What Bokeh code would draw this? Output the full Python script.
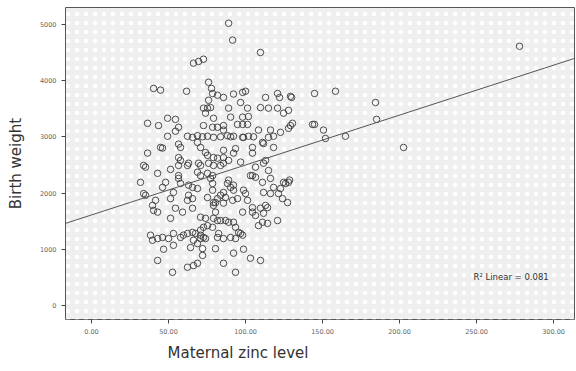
from bokeh.plotting import figure
from bokeh.models import Range1d, Slope, Label, Title, BoxAnnotation, FixedTicker, NumeralTickFormatter
from bokeh.embed import file_html
from bokeh.resources import INLINE

# Maternal zinc level (x) and birth weight (y)
zinc = [
    89.0, 91.6, 109.7, 66.2, 69.5, 72.7, 76.0, 40.3, 44.8, 61.7,
    77.9, 78.6, 81.8, 85.7, 92.2, 98.1, 100.0, 113.0, 120.8, 122.1,
    129.2, 96.8, 76.0, 77.3, 75.3, 72.7, 89.0, 101.3, 109.7, 114.9,
    120.8, 127.9, 124.7, 74.0, 49.4, 54.5, 36.4, 43.5, 56.5, 54.5,
    49.4, 62.3, 65.6, 68.8, 72.1, 75.3, 79.2, 83.8, 88.3, 90.3,
    92.2, 98.1, 101.9, 105.2, 72.7, 78.6, 81.8, 85.7, 94.8, 98.1,
    101.3, 101.9, 98.1, 90.3, 79.2, 85.7, 108.4, 118.2, 129.2, 127.9,
    111.7, 118.2, 44.8, 56.5, 57.8, 68.8, 70.8, 74.0, 75.3, 79.2,
    85.7, 93.5, 104.5, 104.5, 36.4, 56.5, 85.7, 277.9, 158.4, 144.8,
    129.9, 184.4, 185.1, 143.5, 144.8, 150.6, 151.9, 164.9, 202.6, 128.6,
    126.0, 33.8, 35.1, 42.9, 51.3, 56.5, 57.8, 62.3, 70.8, 76.0,
    79.2, 83.8, 85.7, 81.8, 89.0, 92.2, 96.8, 106.5, 111.7, 114.9,
    31.8, 33.8, 35.1, 48.1, 53.2, 56.5, 56.5, 57.8, 63.0, 70.8,
    75.3, 78.6, 77.3, 65.6, 68.8, 63.0, 65.6, 62.3, 78.6, 78.6,
    75.3, 79.2, 89.0, 88.3, 92.2, 90.3, 85.7, 87.0, 85.7, 81.8,
    80.5, 94.8, 100.0, 101.3, 98.1, 104.5, 104.5, 106.5, 111.0, 116.2,
    118.2, 111.7, 116.2, 121.4, 122.7, 127.9, 124.7, 127.3, 124.0, 113.0,
    114.3, 104.5, 109.7, 111.7, 111.0, 108.4, 120.8, 114.3, 39.6, 40.3,
    42.9, 51.3, 54.5, 59.1, 70.8, 74.0, 75.3, 72.7, 70.8, 81.8,
    83.8, 87.0, 89.0, 92.2, 93.5, 95.5, 78.6, 38.3, 39.6, 42.9,
    46.1, 50.0, 53.2, 57.8, 59.7, 62.3, 65.6, 67.5, 70.8, 72.7,
    70.8, 66.2, 64.3, 68.8, 74.0, 81.8, 85.7, 90.3, 93.5, 96.8,
    98.1, 72.1, 72.1, 66.2, 62.3, 68.8, 46.8, 53.2, 80.5, 92.2,
    98.7, 42.9, 52.6, 85.7, 93.5, 103.2, 109.7, 46.1, 63.0, 69.5,
    68.8, 46.1, 51.3, 41.6, 98.7, 111.0, 114.9, 113.0, 103.2, 92.2,
    98.7, 83.8, 65.6, 79.2, 80.5, 79.2, 106.5, 82.5, 91.6, 116.2,
    122.7, 130.5,
]
birth_weight = [
    5020, 4720, 4500, 4310, 4340, 4380, 3970, 3860, 3830, 3810,
    3860, 3770, 3740, 3700, 3760, 3790, 3810, 3700, 3770, 3700,
    3720, 3610, 3650, 3520, 3510, 3510, 3510, 3510, 3520, 3510,
    3510, 3470, 3420, 3420, 3330, 3310, 3240, 3200, 3170, 3100,
    3010, 3010, 2990, 3020, 3000, 3010, 2990, 3000, 3020, 3000,
    3010, 2990, 3010, 3000, 3200, 3170, 3170, 3200, 3220, 3220,
    3220, 3360, 3350, 3350, 3330, 3120, 3120, 3010, 3200, 3150,
    2880, 2810, 2810, 2870, 2810, 2900, 2810, 2720, 2670, 2630,
    2760, 2790, 2810, 2710, 2710, 2630, 2630, 4610, 3810, 3770,
    3700, 3610, 3310, 3220, 3220, 3120, 2970, 3010, 2810, 2230,
    2170, 2490, 2460, 2350, 2420, 2490, 2580, 2490, 2490, 2530,
    2490, 2490, 2530, 2620, 2580, 2710, 2550, 2460, 2530, 2400,
    2190, 1990, 1960, 2190, 2010, 2310, 2260, 2170, 2140, 2310,
    2350, 2310, 2260, 2100, 2080, 1960, 1900, 1870, 2170, 2050,
    1920, 1830, 2230, 2170, 2140, 2100, 2010, 1920, 1820, 1900,
    1830, 1900, 1990, 1870, 1660, 1660, 2310, 2280, 2190, 2260,
    2100, 2010, 1990, 1990, 2080, 2190, 2190, 1830, 1900, 1780,
    1740, 1740, 1730, 1640, 1480, 1420, 1510, 1460, 1780, 1690,
    1660, 1550, 1730, 1660, 1570, 1550, 1420, 1390, 1340, 1510,
    1510, 1510, 1480, 1480, 1390, 1300, 1390, 1250, 1160, 1190,
    1210, 1190, 1280, 1210, 1250, 1280, 1300, 1280, 1250, 1210,
    1190, 1160, 1030, 1100, 1190, 1210, 1190, 1210, 1190, 1280,
    1250, 1010, 890, 710, 680, 750, 1000, 1070, 1010, 930,
    1000, 800, 590, 750, 590, 840, 800, 2800, 2530, 2530,
    2370, 2100, 1900, 1870, 2990, 2900, 2990, 2580, 2310, 2050,
    2050, 1960, 1730, 1550, 1660, 1780, 1600, 1280, 1870, 3120,
    3080, 3240,
]

# Linear fit shown in the chart
fit_intercept = 1610
fit_slope = 8.88
r2_text = "R\u00b2 Linear = 0.081"
r2_pos = (248, 498)

x_ticks = [0, 50, 100, 150, 200, 250, 300]
y_ticks = [0, 1000, 2000, 3000, 4000, 5000]

p = figure(width=576, height=371, output_backend="svg", toolbar_location=None,
           x_range=Range1d(-16.9, 313.6), y_range=Range1d(-250, 5300),
           min_border_left=65, min_border_right=2, min_border_top=7,
           min_border_bottom=52)

p.background_fill_color = "#efefef"
p.border_fill_color = "white"
p.outline_line_color = "#555555"
p.outline_line_width = 1
p.xgrid.visible = False
p.ygrid.visible = False

p.add_layout(BoxAnnotation(fill_alpha=0, line_alpha=0, hatch_pattern="dot",
                           hatch_color="white", hatch_scale=9, hatch_weight=1.3,
                           level="underlay"))

p.scatter(zinc, birth_weight, marker="circle", size=6.5, fill_color=None,
          line_color="#3a3a3a", line_width=0.9)

p.add_layout(Slope(gradient=fit_slope, y_intercept=fit_intercept,
                   line_color="#555555", line_width=1))

p.add_layout(Label(x=r2_pos[0], y=r2_pos[1], text=r2_text, text_font_size="8.5px",
                   text_color="#333333", text_baseline="middle",
                   text_font="DejaVu Sans"))

for ax in (p.xaxis[0], p.yaxis[0]):
    ax.axis_line_color = None
    ax.major_tick_out = 4
    ax.major_tick_in = 0
    ax.major_tick_line_color = "#444444"
    ax.minor_tick_line_color = None
    ax.major_label_text_font_size = "6.5px"
    ax.major_label_text_color = "#666666"
    ax.major_label_text_font = "DejaVu Sans"

p.xaxis.ticker = FixedTicker(ticks=x_ticks)
p.xaxis.formatter = NumeralTickFormatter(format="0.00")
p.yaxis.ticker = FixedTicker(ticks=y_ticks)

p.yaxis.axis_label = "Birth weight"
p.yaxis.axis_label_text_font_size = "15px"
p.yaxis.axis_label_text_font_style = "normal"
p.yaxis.axis_label_text_color = "#333333"
p.yaxis.axis_label_text_font = "DejaVu Sans"
p.yaxis.axis_label_standoff = 12

p.add_layout(Title(text="Maternal zinc level", align="left", offset=102,
                   text_font_size="15px", text_font_style="normal",
                   text_color="#333333", text_font="DejaVu Sans"), "below")

open("out.html", "w").write(file_html(p, INLINE))
